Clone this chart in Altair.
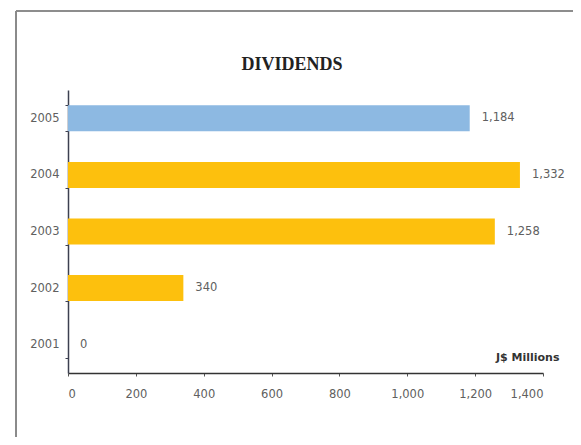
import altair as alt
import pandas as pd

years = ["2005", "2004", "2003", "2002", "2001"]
dividends = [1184, 1332, 1258, 340, 0]
groups = ["latest", "prior", "prior", "prior", "prior"]
x_ticks = [0, 200, 400, 600, 800, 1000, 1200, 1400]
chart_title = "DIVIDENDS"

df = pd.DataFrame({"year": years, "value": dividends, "group": groups})

FONT = "DejaVu Sans"
W, H = 475, 283

y_enc = alt.Y(
    "year:N",
    sort=years,
    title=None,
    scale=alt.Scale(paddingInner=0.54, paddingOuter=0.27),
    axis=alt.Axis(
        tickBand="extent",
        tickSize=3,
        labelPadding=6,
        labelFont=FONT,
        labelFontSize=11.5,
        labelColor="#606060",
        domainColor="#3c4050",
        tickColor="#3c4050",
        domainWidth=1.5,
    ),
)

x_enc = alt.X(
    "value:Q",
    scale=alt.Scale(domain=[0, 1400], nice=False),
    axis=alt.Axis(
        values=x_ticks,
        format=",d",
        tickSize=3,
        labelPadding=12,
        labelFont=FONT,
        labelFontSize=11.5,
        labelColor="#606060",
        domainColor="#333333",
        tickColor="#555555",
        domainWidth=1.5,
        grid=False,
        title="J$ Millions",
        titleFont=FONT,
        titleFontSize=11,
        titleFontWeight="bold",
        titleColor="#333333",
        titleAnchor="end",
        titleAlign="right",
        titleBaseline="middle",
        titleX=491,
        titleY=-16,
    ),
)

bars = alt.Chart(df).mark_bar().encode(
    x=x_enc,
    y=y_enc,
    color=alt.Color(
        "group:N",
        scale=alt.Scale(domain=["latest", "prior"], range=["#8DB9E2", "#FDC00D"]),
        legend=None,
    ),
)

labels = alt.Chart(df).mark_text(
    align="left", baseline="middle", dx=12, font=FONT, fontSize=11.5, color="#606060"
).encode(
    x=alt.X("value:Q"),
    y=alt.Y("year:N", sort=years),
    text=alt.Text("value:Q", format=",d"),
)

title_mark = alt.Chart(pd.DataFrame({"t": [chart_title]})).mark_text(
    font="Liberation Serif", fontSize=18, fontWeight="bold", color="#222222",
    align="center", baseline="middle",
).encode(x=alt.value(224), y=alt.value(-25), text="t:N")

frame_top = alt.Chart(df).mark_rule(color="#8a8a8a", strokeWidth=1.2).encode(
    x=alt.value(-52), x2=alt.value(700), y=alt.value(-79)
)
frame_left = alt.Chart(df).mark_rule(color="#8a8a8a", strokeWidth=1.2).encode(
    x=alt.value(-52), y=alt.value(-79), y2=alt.value(600)
)

chart = (
    alt.layer(frame_top, frame_left, bars, labels, title_mark)
    .properties(
        width=W,
        height=H,
        view=alt.ViewBackground(strokeOpacity=0, strokeWidth=0),
        autosize=alt.AutoSizeParams(type="none"),
        padding={"left": 60, "top": 82, "right": 30, "bottom": 64},
    )
    .configure_view(strokeOpacity=0, strokeWidth=0)
    .configure(background="white")
)

chart.save("out.html", embed_options={"renderer": "svg", "actions": False})
